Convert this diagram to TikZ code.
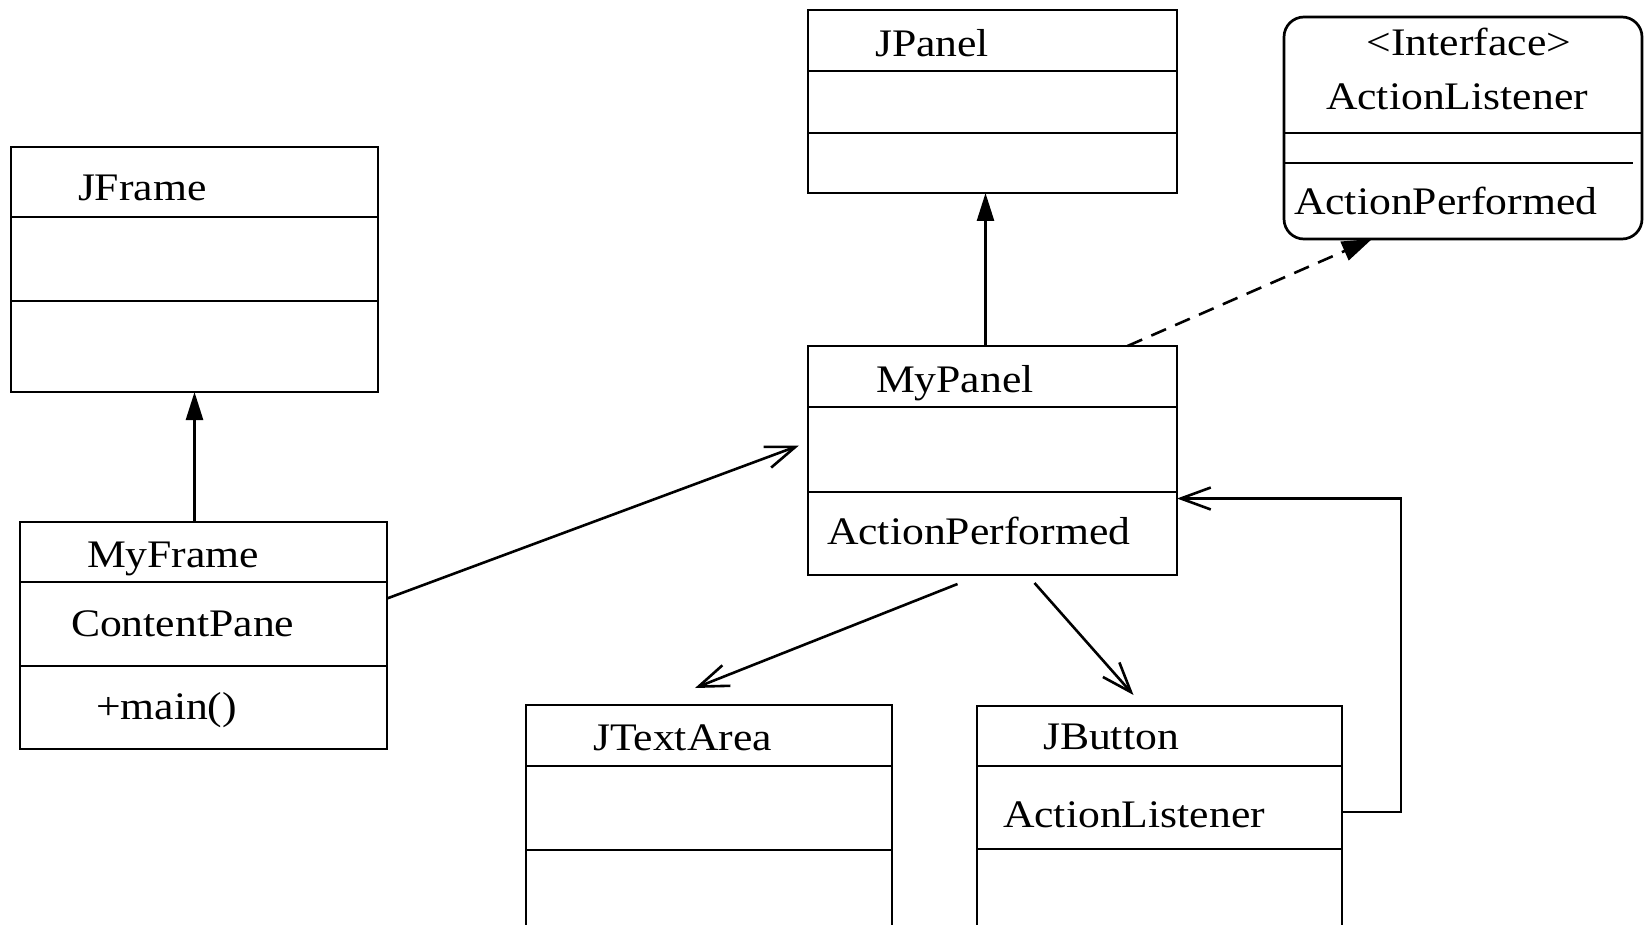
\documentclass[tikz,border=0pt]{standalone}
\usepackage{fontspec}
\setmainfont{Liberation Serif}
\usepackage{graphicx}
\usetikzlibrary{arrows.meta}
\newcommand\wtxt[1]{\scalebox{1.12}[1]{#1}}
\tikzset{
  cls/.style={draw, line width=2.7pt, inner sep=0pt, outer sep=0pt, anchor=north west},
  div/.style={line width=2.7pt},
  lbl/.style={anchor=base west, inner sep=0pt, outer sep=0pt, font=\fontsize{39}{47}\selectfont},
  inh/.style={line width=2.6pt, -{Triangle[length=28pt,width=17pt]}},
  real/.style={line width=2.6pt, dash pattern=on 16pt off 10pt, -{Triangle[length=30pt,width=20pt]}},
  assoc/.style={line width=2.6pt, -{Straight Barb[length=30pt,width=22pt,line width=2.6pt]}}
}
\begin{document}
\begin{tikzpicture}[x=1pt,y=-1pt]
\useasboundingbox (0,0) rectangle (1645,925);
\clip (0,0) rectangle (1645,925);
\fill[white] (0,0) rectangle (1645,925);

% JFrame
\node[cls, minimum width=367pt, minimum height=245pt] (jframe) at (11,147) {};
\draw[div] (11,217) -- (378,217);
\draw[div] (11,301) -- (378,301);
\node[lbl] (tjframe) at (78,201) {\wtxt{JFrame}};

% MyFrame
\node[cls, minimum width=367pt, minimum height=227pt] (myframe) at (20,522) {};
\draw[div] (20,582) -- (387,582);
\draw[div] (20,666) -- (387,666);
\node[lbl] (tmyframe) at (87,567) {\wtxt{MyFrame}};
\node[lbl] (tcontent) at (71,636) {\wtxt{ContentPane}};
\node[lbl] (tmain) at (96,719) {\wtxt{+main()}};

% JPanel
\node[cls, minimum width=369pt, minimum height=183pt] (jpanel) at (808,10) {};
\draw[div] (808,71) -- (1177,71);
\draw[div] (808,133) -- (1177,133);
\node[lbl] (tjpanel) at (875,57) {\wtxt{JPanel}};

% Interface ActionListener
\node[cls, rounded corners=20pt, minimum width=358pt, minimum height=222pt] (iface) at (1284,17) {};
\draw[div] (1284,133) -- (1642,133);
\draw[div] (1284,163) -- (1633,163);
\node[lbl, anchor=base] (tiface) at (1469,56) {\wtxt{<Interface>}};
\node[lbl, anchor=base] (tal) at (1457,110) {\wtxt{ActionListener}};
\node[lbl] (tap1) at (1294,215) {\wtxt{ActionPerformed}};

% MyPanel
\node[cls, minimum width=369pt, minimum height=229pt] (mypanel) at (808,346) {};
\draw[div] (808,407) -- (1177,407);
\draw[div] (808,492) -- (1177,492);
\node[lbl] (tmypanel) at (876,392) {\wtxt{MyPanel}};
\node[lbl] (tap2) at (827,544) {\wtxt{ActionPerformed}};

% JTextArea
\node[cls, minimum width=366pt, minimum height=260pt] (jtext) at (526,705) {};
\draw[div] (526,766) -- (892,766);
\draw[div] (526,850) -- (892,850);
\node[lbl] (tjtext) at (593,750) {\wtxt{JTextArea}};

% JButton
\node[cls, minimum width=365pt, minimum height=260pt] (jbutton) at (977,706) {};
\draw[div] (977,766) -- (1342,766);
\draw[div] (977,849) -- (1342,849);
\node[lbl] (tjbutton) at (1043,749) {\wtxt{JButton}};
\node[lbl] (tbal) at (1003,827) {\wtxt{ActionListener}};

% Connectors
\draw[inh] (jframe.south |- myframe.north) -- (jframe.south);
\draw[inh] ([xshift=-7pt]mypanel.north) -- ([xshift=-7pt]jpanel.south);
\draw[real] ([xshift=135pt]mypanel.north) -- ([xshift=-91pt]iface.south);
\draw[assoc] ([yshift=37pt]myframe.east) -- ([xshift=-9pt,yshift=15pt]mypanel.west);
\draw[assoc] ([xshift=-35pt,yshift=-9pt]mypanel.south) -- ([xshift=-14pt,yshift=17pt]jtext.north);
\draw[assoc] ([xshift=42pt,yshift=-8pt]mypanel.south) -- ([xshift=-26pt,yshift=11pt]jbutton.north);
\draw[assoc] ([yshift=-106pt]jbutton.north east) -- ++(59,0) |- ([yshift=-38pt]mypanel.east);
\end{tikzpicture}
\end{document}
